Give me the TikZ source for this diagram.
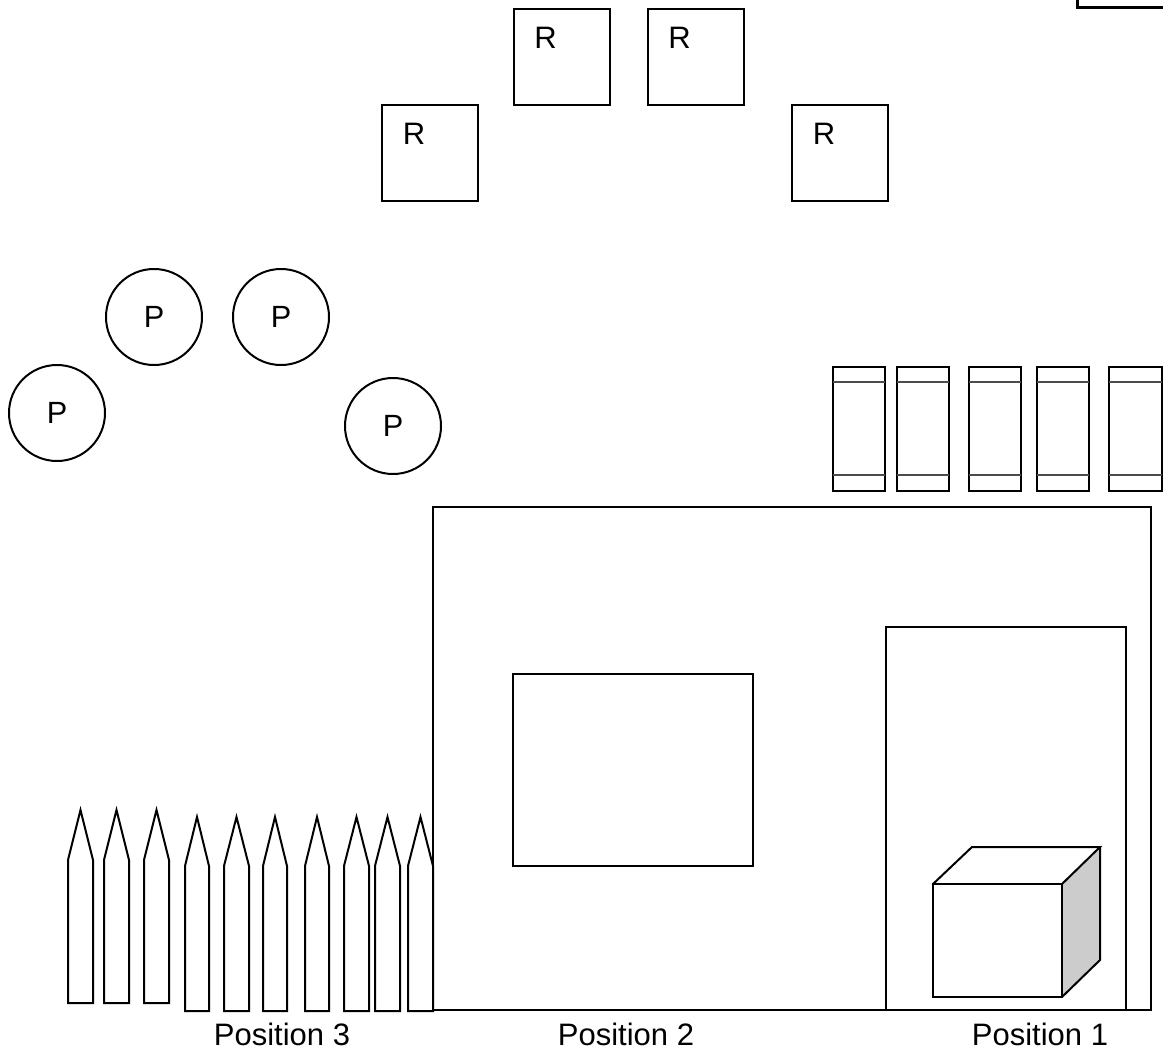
\documentclass[tikz,border=0pt]{standalone}
\usepackage{fontspec}
\setmainfont{Liberation Sans}
\usetikzlibrary{calc}
\begin{document}
\begin{tikzpicture}[x=1pt,y=-1pt,line join=miter,
  ln/.style={draw=black,line width=2pt},
  rbox/.style={ln,rectangle,minimum width=96pt,minimum height=96pt,inner sep=0pt},
  pcirc/.style={ln,circle,minimum size=96pt,inner sep=0pt,font=\fontsize{30.7}{36}\selectfont},
  lbl/.style={inner sep=0pt,font=\fontsize{31}{36}\selectfont},
  battbox/.style={draw=black,line width=2.8pt},
  battline/.style={draw=black!70,line width=1.8pt}]
\useasboundingbox (0,0) rectangle (1163,1057);

% partial box top right
\draw[line width=3pt] (1077,-5) -- (1077,8) -- (1170,8);

% R boxes
\node[rbox] (r1) at (561.5,57) {};
\node[rbox] (r2) at (695.5,57) {};
\node[rbox] (r3) at (430,153) {};
\node[rbox] (r4) at (840,153) {};
\foreach \b in {r1,r2,r3,r4}
  \node[lbl] (\b lab) at ($(\b.north west)+(33,30)$) {R};

% P circles
\node[pcirc] (p1) at (57,413) {P};
\node[pcirc] (p2) at (154,317) {P};
\node[pcirc] (p3) at (281,317) {P};
\node[pcirc] (p4) at (393,426) {P};

% batteries
\foreach \l/\r in {833/885,897/949,969/1021,1037/1089,1109/1162}{
  \draw[battbox] (\l,367) rectangle (\r,491);
  \draw[battline] (\l,382) -- (\r,382) (\l,475) -- (\r,475);
}

% big rectangle and inner rectangles
\draw[ln] (433,507) rectangle (1151,1010);
\draw[ln] (513,674) rectangle (753,866);
\draw[ln] (886,627) rectangle (1126,1010);

% cube
\fill[gray!40] (1062,884) -- (1100,847) -- (1100,960) -- (1062,997) -- cycle;
\draw[ln] (933,884) rectangle (1062,997);
\draw[ln] (933,884) -- (972,847) -- (1100,847) -- (1062,884);
\draw[ln] (1100,847) -- (1100,960) -- (1062,997);

% fence posts
\foreach \l/\r/\t/\s/\b in {68/93/810/860/1003,104/129/810/860/1003,144/169/810/860/1003,
  185/209/817/866/1011,224/249/817/866/1011,263/287/817/866/1011,305/329/817/866/1011,
  344/369/817/866/1011,375/400/817/866/1011,408/433/817/866/1011}
  \draw[ln] (\l,\b) -- (\l,\s) -- ({(\l+\r)/2},\t) -- (\r,\s) -- (\r,\b) -- cycle;

% position labels
\node[lbl,anchor=base] (pos3) at (282,1045) {Position 3};
\node[lbl,anchor=base] (pos2) at (626,1045) {Position 2};
\node[lbl,anchor=base] (pos1) at (1040,1045) {Position 1};
\end{tikzpicture}
\end{document}
